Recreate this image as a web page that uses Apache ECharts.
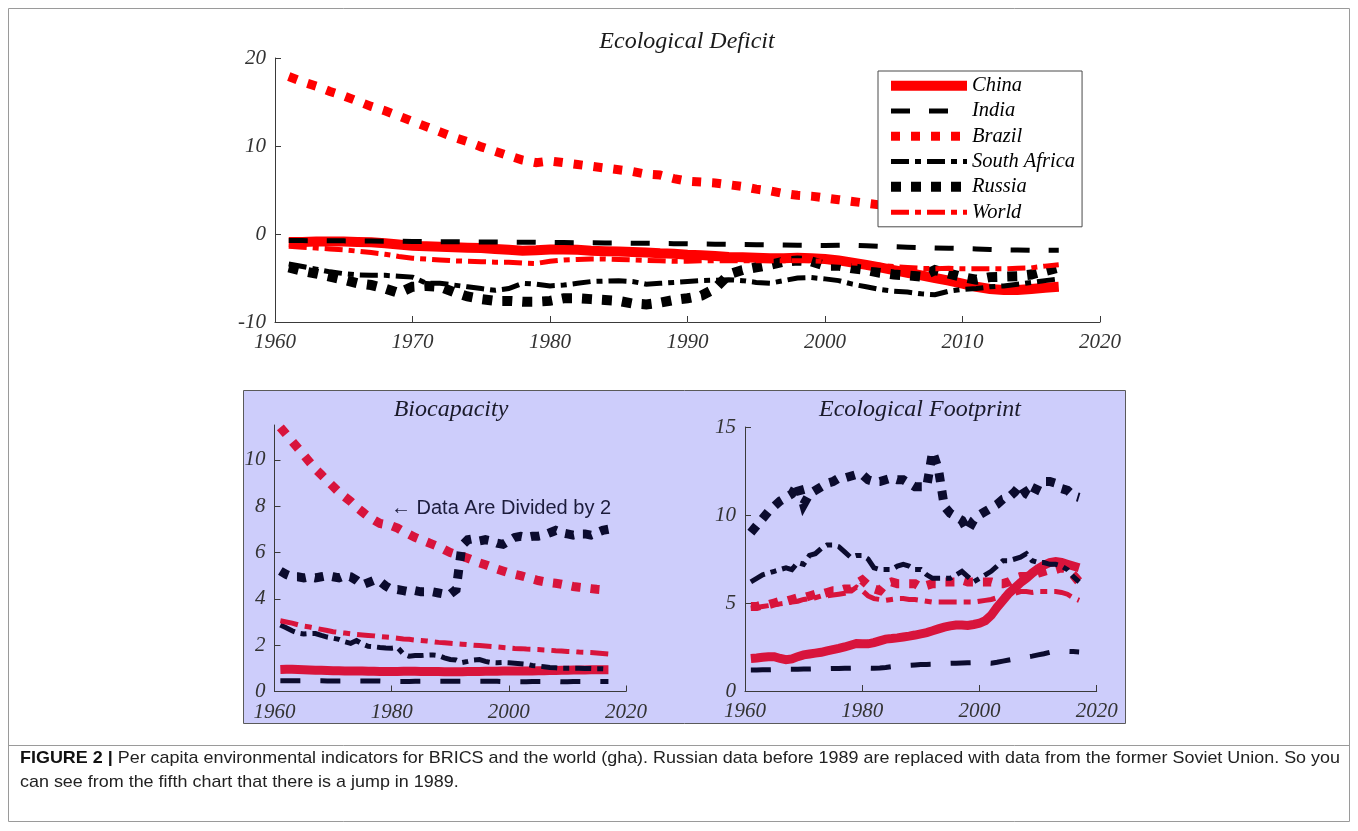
<!DOCTYPE html>
<html>
<head>
<meta charset="utf-8">
<script src="https://cdn.jsdelivr.net/npm/echarts@6/dist/echarts.min.js"></script>
<style>
html,body{margin:0;padding:0;background:#fff;}
#chart{width:1358px;height:831px;}
</style>
</head>
<body>
<div id="chart"></div>
<script>
// Per capita environmental indicators (gha), 1961-2017
const years = [1961,1962,1963,1964,1965,1966,1967,1968,1969,1970,
  1971,1972,1973,1974,1975,1976,1977,1978,1979,1980,
  1981,1982,1983,1984,1985,1986,1987,1988,1989,1990,
  1991,1992,1993,1994,1995,1996,1997,1998,1999,2000,
  2001,2002,2003,2004,2005,2006,2007,2008,2009,2010,
  2011,2012,2013,2014,2015,2016,2017];

const countries = ['China', 'India', 'Brazil', 'South Africa', 'Russia', 'World'];

// Ecological deficit
const deficitChina = [-0.90,-0.90,-0.85,-0.85,-0.85,-0.90,-0.95,-1.05,-1.20,-1.35, -1.40,-1.45,-1.50,-1.55,-1.60,-1.70,-1.80,-1.90,-1.85,-1.75, -1.75,-1.80,-1.90,-1.95,-2.00,-2.05,-2.10,-2.20,-2.25,-2.35, -2.40,-2.50,-2.60,-2.65,-2.70,-2.75,-2.75,-2.70,-2.75,-2.85, -3.00,-3.25,-3.50,-3.80,-4.10,-4.40,-4.70,-5.00,-5.30,-5.65, -6.00,-6.25,-6.35,-6.35,-6.25,-6.10,-6.00];
const deficitIndia = [-0.75,-0.75,-0.76,-0.77,-0.78,-0.80,-0.80,-0.82,-0.83,-0.85, -0.86,-0.87,-0.88,-0.89,-0.90,-0.92,-0.93,-0.94,-0.95,-0.96, -0.98,-0.99,-1.00,-1.01,-1.02,-1.04,-1.06,-1.08,-1.10,-1.12, -1.14,-1.16,-1.18,-1.20,-1.22,-1.24,-1.26,-1.27,-1.28,-1.30, -1.29,-1.27,-1.33,-1.40,-1.45,-1.50,-1.55,-1.60,-1.62,-1.65, -1.70,-1.75,-1.80,-1.82,-1.85,-1.85,-1.85];
const deficitBrazil = [17.9,17.3,16.8,16.2,15.7,15.1,14.5,14.0,13.4,12.8, 12.2,11.6,11.0,10.5,9.9,9.4,8.9,8.4,8.1,8.3, 8.1,7.9,7.7,7.5,7.3,7.1,6.8,6.7,6.3,6.0, 5.9,5.8,5.6,5.4,5.1,4.9,4.6,4.4,4.3,4.1, 3.9,3.7,3.5,3.3,3.2,3.0,2.9,2.8,2.7,2.6, 2.5,2.4,2.4,2.3,2.3,2.4,2.5];
const deficitSouthAfrica = [-3.4,-3.7,-4.0,-4.3,-4.5,-4.65,-4.7,-4.7,-4.8,-4.9, -5.6,-5.6,-5.8,-6.0,-6.2,-6.4,-6.2,-5.6,-5.7,-5.9, -5.8,-5.6,-5.4,-5.35,-5.3,-5.4,-5.7,-5.6,-5.5,-5.4, -5.3,-5.25,-5.2,-5.3,-5.5,-5.6,-5.3,-5.0,-4.95,-5.1, -5.3,-5.7,-6.0,-6.3,-6.5,-6.6,-6.8,-6.9,-6.5,-6.3, -6.2,-6.0,-5.9,-5.7,-5.5,-5.3,-5.1];
const deficitRussia = [-3.8,-4.2,-4.5,-4.85,-5.2,-5.6,-5.8,-6.2,-6.7,-6.0, -5.9,-6.0,-6.6,-7.1,-7.4,-7.6,-7.6,-7.7,-7.7,-7.6, -7.3,-7.3,-7.4,-7.5,-7.6,-7.9,-8.0,-7.8,-7.5,-7.3, -7.0,-6.2,-4.6,-4.1,-3.8,-3.5,-3.15,-3.0,-3.1,-3.6, -3.6,-3.9,-4.1,-4.4,-4.6,-4.7,-4.85,-4.1,-4.5,-4.9, -5.2,-4.9,-4.85,-4.8,-4.6,-4.2,-3.8];
const deficitWorld = [-1.4,-1.5,-1.6,-1.7,-1.8,-1.95,-2.1,-2.3,-2.55,-2.75, -2.85,-2.95,-3.05,-3.1,-3.15,-3.2,-3.2,-3.3,-3.35,-3.1, -2.95,-2.9,-2.85,-2.85,-2.9,-2.95,-3.0,-3.05,-3.1,-3.1, -3.05,-3.05,-3.05,-3.05,-3.05,-3.05,-3.05,-3.05,-3.05,-3.1, -3.2,-3.3,-3.4,-3.55,-3.7,-3.8,-3.9,-3.95,-3.9,-3.95, -3.95,-3.95,-3.95,-3.9,-3.85,-3.65,-3.5];

// Biocapacity (Brazil values are halved, as the annotation says)
const bioChina = [0.95,0.96,0.96,0.95,0.94,0.93,0.92,0.92,0.91,0.90, 0.90,0.89,0.89,0.88,0.88,0.87,0.87,0.86,0.86,0.86, 0.86,0.87,0.87,0.87,0.86,0.86,0.86,0.86,0.85,0.85, 0.85,0.85,0.86,0.86,0.86,0.87,0.87,0.87,0.88,0.88, 0.88,0.89,0.89,0.89,0.90,0.90,0.91,0.91,0.92,0.92, 0.93,0.93,0.93,0.94,0.94,0.94,0.94];
const bioIndia = [0.46,0.46,0.46,0.46,0.46,0.46,0.46,0.46,0.45,0.45, 0.45,0.45,0.45,0.45,0.45,0.45,0.45,0.45,0.44,0.44, 0.43,0.43,0.43,0.44,0.44,0.44,0.44,0.44,0.44,0.44, 0.44,0.44,0.44,0.44,0.44,0.44,0.44,0.44,0.43,0.43, 0.42,0.42,0.42,0.43,0.43,0.43,0.43,0.43,0.42,0.42, 0.43,0.43,0.43,0.43,0.43,0.43,0.43];
const bioBrazil = [11.4,11.1,10.8,10.5,10.2,9.9,9.6,9.35,9.1,8.85, 8.6,8.4,8.2,7.95,7.75,7.55,7.4,7.25,7.2,7.15, 7.05,6.9,6.78,6.65,6.55,6.45,6.35,6.25,6.12,6.0, 5.92,5.84,5.75,5.65,5.55,5.47,5.38,5.28,5.2,5.12, 5.06,5.0,4.93,4.86,4.79,4.74,4.7,4.67,4.63,4.58, 4.53,4.5,4.47,4.44,4.41,4.39,4.37];
const bioSouthAfrica = [2.87,2.75,2.62,2.52,2.48,2.5,2.5,2.42,2.35,2.3, 2.25,2.15,2.08,2.2,2.05,1.95,1.93,1.9,1.88,1.87, 1.9,1.62,1.52,1.55,1.55,1.57,1.58,1.55,1.45,1.38, 1.36,1.25,1.3,1.36,1.38,1.3,1.25,1.24,1.25,1.24, 1.22,1.2,1.18,1.12,1.1,1.07,1.04,1.02,1.0,1.0, 1.0,1.0,0.99,0.99,0.98,0.98,0.97];
const bioRussia = [5.2,5.05,4.95,4.95,4.9,4.95,4.9,4.95,5.0,4.95, 4.9,5.0,4.95,4.8,4.6,4.7,4.8,4.75,4.55,4.4, 4.4,4.35,4.3,4.35,4.3,4.3,4.3,4.25,4.2,4.2, 4.4,6.3,6.55,6.6,6.5,6.55,6.5,6.4,6.35,6.5, 6.65,6.7,6.65,6.7,6.7,6.75,6.85,6.95,6.85,6.8, 6.75,6.8,6.8,6.75,6.85,6.95,7.0];
const bioWorld = [3.05,3.0,2.95,2.88,2.82,2.78,2.73,2.68,2.63,2.58, 2.55,2.52,2.49,2.46,2.44,2.42,2.40,2.37,2.35,2.33, 2.3,2.27,2.25,2.22,2.2,2.18,2.15,2.12,2.1,2.08, 2.06,2.04,2.02,2.0,1.98,1.96,1.94,1.92,1.9,1.88, 1.86,1.85,1.83,1.82,1.81,1.79,1.78,1.76,1.75,1.73, 1.72,1.7,1.69,1.68,1.66,1.64,1.62];

// Ecological footprint
const fpChina = [1.85,1.88,1.92,1.95,1.95,1.85,1.78,1.82,1.95,2.05, 2.1,2.15,2.2,2.28,2.35,2.42,2.5,2.6,2.7,2.68, 2.68,2.75,2.85,2.95,2.98,3.02,3.07,3.12,3.18,3.25, 3.32,3.42,3.53,3.63,3.7,3.75,3.75,3.72,3.78,3.85, 4.0,4.3,4.75,5.15,5.55,5.85,6.15,6.4,6.7,6.95, 7.15,7.3,7.35,7.3,7.2,7.1,7.0];
const fpIndia = [1.20,1.20,1.21,1.21,1.22,1.22,1.23,1.23,1.24,1.25, 1.25,1.26,1.26,1.27,1.28,1.28,1.29,1.29,1.30,1.30, 1.30,1.29,1.31,1.34,1.38,1.41,1.44,1.46,1.48,1.50, 1.51,1.52,1.53,1.55,1.57,1.58,1.59,1.60,1.61,1.62, 1.60,1.58,1.63,1.70,1.76,1.82,1.88,1.93,1.98,2.05, 2.12,2.20,2.25,2.26,2.25,2.24,2.22];
const fpBrazil = [4.8,4.8,4.9,4.9,5.0,5.1,5.1,5.2,5.3,5.3, 5.4,5.5,5.5,5.6,5.7,5.7,5.8,5.8,6.1,6.3, 6.0,5.8,5.7,6.1,6.2,6.1,6.1,6.1,6.1,5.9, 6.0,6.1,6.1,6.2,6.2,6.2,6.3,6.2,6.2,6.2, 6.2,6.2,6.1,6.1,6.2,6.4,6.5,6.5,6.6,6.7, 6.8,6.9,6.9,7.0,6.9,6.6,6.2];
const fpSouthAfrica = [6.2,6.4,6.6,6.7,6.8,6.9,7.0,6.9,7.3,7.2, 7.7,7.8,8.1,8.3,8.3,8.2,7.9,7.6,7.7,7.7, 7.5,7.0,6.9,6.9,6.9,7.1,7.2,7.1,6.9,6.9, 6.6,6.4,6.4,6.4,6.4,6.6,6.8,6.5,6.2,6.4, 6.6,6.8,7.1,7.4,7.4,7.5,7.6,7.8,7.4,7.3, 7.3,7.2,7.2,7.1,6.9,6.5,6.2];
const fpRussia = [9.0,9.4,9.8,10.2,10.5,10.8,11.0,11.2,11.8,10.6, 11.2,11.4,11.6,11.8,11.9,12.1,12.1,12.2,12.3,12.3, 12.0,11.9,11.9,12.0,12.1,12.0,12.0,11.8,11.6,11.6, 11.6,13.6,12.6,10.5,10.1,9.9,9.7,9.1,9.7,10.0, 10.2,10.4,10.6,10.9,11.0,11.3,11.7,11.2,11.0,11.7, 11.9,11.9,11.8,11.5,11.4,11.1,11.0];
const fpWorld = [4.7,4.75,4.8,4.85,4.9,4.95,5.0,5.05,5.1,5.2, 5.25,5.3,5.4,5.4,5.45,5.5,5.55,5.65,5.9,5.7, 5.4,5.25,5.2,5.15,5.2,5.25,5.25,5.2,5.2,5.15, 5.1,5.05,5.05,5.05,5.05,5.05,5.05,5.05,5.05,5.1, 5.15,5.2,5.3,5.35,5.45,5.55,5.65,5.65,5.6,5.65, 5.65,5.65,5.65,5.6,5.5,5.3,5.15];

// Axis ticks
const deficitTicks = [-10, 0, 10, 20];
const bioTicks = [0, 2, 4, 6, 8, 10];
const fpTicks = [0, 5, 10, 15];

const SERIF = '"Liberation Serif", "Times New Roman", serif';
const SANS = '"Liberation Sans", Arial, sans-serif';

// Line looks for the upper panel (pure red / black)
const topLook = {
  'China':        { color: '#ff0000', width: 10, type: 'solid' },
  'India':        { color: '#000000', width: 5,  type: [19, 19] },
  'Brazil':       { color: '#ff0000', width: 9,  type: [9, 11] },
  'South Africa': { color: '#000000', width: 5,  type: [18, 6, 6, 6] },
  'Russia':       { color: '#000000', width: 10, type: [10, 10] },
  'World':        { color: '#ff0000', width: 5,  type: [18, 6, 6, 6] }
};
// Line looks for the lower (lavender) panels
const lowLook = {
  'China':        { color: '#d8143c', width: 9, type: 'solid' },
  'India':        { color: '#0b0b2e', width: 5, type: [20, 20] },
  'Brazil':       { color: '#d8143c', width: 9, type: [9, 10] },
  'South Africa': { color: '#0b0b2e', width: 5, type: [16, 6, 6, 6] },
  'Russia':       { color: '#0b0b2e', width: 9, type: [9, 9] },
  'World':        { color: '#d8143c', width: 5, type: [18, 7, 7, 7] }
};

function makeSeries(axisIndex, arrays, look) {
  return countries.map((name, i) => ({
    type: 'line',
    name: name,
    xAxisIndex: axisIndex,
    yAxisIndex: axisIndex,
    data: years.map((y, k) => [y, arrays[i][k]]),
    symbol: 'none',
    showSymbol: false,
    silent: true,
    animation: false,
    z: 2 + i * 0.01,
    itemStyle: { color: look[name].color },
    lineStyle: { color: look[name].color, width: look[name].width, type: look[name].type, cap: 'butt', join: 'miter' }
  }));
}

const labelFont = { fontFamily: SERIF, fontStyle: 'italic', fontSize: 21, color: '#333' };
const axisLineStyle = { lineStyle: { color: '#3a3a3a', width: 1 } };

function xAxis(gridIndex, interval) {
  return {
    type: 'value', gridIndex: gridIndex, min: 1960, max: 2020, interval: interval,
    splitLine: { show: false },
    axisLine: Object.assign({ show: true, onZero: false }, axisLineStyle),
    axisTick: { show: true, inside: true, length: 6, lineStyle: { color: '#3a3a3a' } },
    axisLabel: Object.assign({ margin: 10, formatter: v => String(v) }, labelFont)
  };
}
function yAxis(gridIndex, min, max, interval, ticks) {
  return {
    type: 'value', gridIndex: gridIndex, min: min, max: max, interval: interval,
    splitLine: { show: false },
    axisLine: Object.assign({ show: true, onZero: false }, axisLineStyle),
    axisTick: { show: true, inside: true, length: 6, customValues: ticks, lineStyle: { color: '#3a3a3a' } },
    axisLabel: Object.assign({ margin: 9, customValues: ticks, formatter: v => String(v) }, labelFont)
  };
}

// Caption sizing: narrow the text to span the frame width
const captionBold = 'FIGURE 2 |';
const captionLine1 = ' Per capita environmental indicators for BRICS and the world (gha). Russian data before 1989 are replaced with data from the former Soviet Union. So you';
const captionLine2 = 'can see from the fifth chart that there is a jump in 1989.';
const ctx = document.createElement('canvas').getContext('2d');
ctx.font = 'bold 17px "Liberation Sans"';
const wBold = ctx.measureText(captionBold).width;
ctx.font = '17px "Liberation Sans"';
const wRest = ctx.measureText(captionLine1).width;
const captionScale = 1320 / (wBold + wRest);

const chart = echarts.init(document.getElementById('chart'), null, { renderer: 'canvas' });

const option = {
  animation: false,
  backgroundColor: '#ffffff',
  grid: [
    { left: 275, top: 58, width: 825, height: 264, containLabel: false, outerBoundsMode: 'none' },
    { left: 274.5, top: 425, width: 351.5, height: 266.5, containLabel: false, outerBoundsMode: 'none' },
    { left: 745, top: 427, width: 351.7, height: 264, containLabel: false, outerBoundsMode: 'none' }
  ],
  xAxis: [xAxis(0, 10), xAxis(1, 20), xAxis(2, 20)],
  yAxis: [
    yAxis(0, -10, 20, 10, deficitTicks),
    yAxis(1, 0, 11.5, 2, bioTicks),
    yAxis(2, 0, 15, 5, fpTicks)
  ],
  legend: {
    orient: 'vertical',
    left: 878, top: 71,
    padding: [4, 7, 4, 8],
    itemWidth: 76, itemHeight: 10, itemGap: 4,
    backgroundColor: '#ffffff',
    borderColor: '#4a4a4a', borderWidth: 1, borderRadius: 0,
    selectedMode: false,
    textStyle: { fontFamily: SERIF, fontStyle: 'italic', fontSize: 20.5, color: '#000', lineHeight: 21.3 },
    itemStyle: { opacity: 0 },
    data: countries.map(n => ({ name: n, lineStyle: { width: topLook[n].width } }))
  },
  graphic: [
    // outer figure frame and caption box
    { type: 'rect', z: -10, silent: true, shape: { x: 8.5, y: 8.5, width: 1341, height: 813 }, style: { fill: 'none', stroke: '#9a9a9a', lineWidth: 1 } },
    { type: 'line', z: -10, silent: true, shape: { x1: 8.5, y1: 745.5, x2: 1349.5, y2: 745.5 }, style: { stroke: '#9a9a9a', lineWidth: 1 } },
    // lavender backdrop of the two lower panels
    { type: 'rect', z: -5, silent: true, shape: { x: 243.5, y: 390.5, width: 882, height: 333 }, style: { fill: '#cdcdfb', stroke: '#5a5a5a', lineWidth: 1 } },
    // panel titles
    { type: 'text', z: 5, silent: true, x: 687, y: 42, style: { text: 'Ecological Deficit', align: 'center', verticalAlign: 'middle', font: 'italic 24px ' + SERIF, fill: '#1a1a1a' } },
    { type: 'text', z: 5, silent: true, x: 451, y: 410, style: { text: 'Biocapacity', align: 'center', verticalAlign: 'middle', font: 'italic 24px ' + SERIF, fill: '#1a1a2a' } },
    { type: 'text', z: 5, silent: true, x: 920, y: 410, style: { text: 'Ecological Footprint', align: 'center', verticalAlign: 'middle', font: 'italic 24px ' + SERIF, fill: '#1a1a2a' } },
    // note on the Brazil biocapacity line
    { type: 'text', z: 5, silent: true, x: 391, y: 508, style: { text: '\u2190 Data Are Divided by 2', align: 'left', verticalAlign: 'middle', font: '20px ' + SANS, fill: '#1c1c3c' } },
    // caption
    { type: 'text', z: 5, silent: true, x: 20, y: 758, scaleX: captionScale, style: { text: '{b|' + captionBold + '}' + captionLine1, verticalAlign: 'middle', fontFamily: '"Liberation Sans"', fontSize: 17, fill: '#222', rich: { b: { fontWeight: 'bold', fontFamily: '"Liberation Sans"', fontSize: 17, fill: '#111' } } } },
    { type: 'text', z: 5, silent: true, x: 20, y: 782, scaleX: captionScale, style: { text: captionLine2, verticalAlign: 'middle', fontFamily: '"Liberation Sans"', fontSize: 17, fill: '#222' } }
  ],
  series: [].concat(
    makeSeries(0, [deficitChina, deficitIndia, deficitBrazil, deficitSouthAfrica, deficitRussia, deficitWorld], topLook),
    makeSeries(1, [bioChina, bioIndia, bioBrazil, bioSouthAfrica, bioRussia, bioWorld], lowLook),
    makeSeries(2, [fpChina, fpIndia, fpBrazil, fpSouthAfrica, fpRussia, fpWorld], lowLook)
  )
};

chart.setOption(option);
</script>
</body>
</html>
